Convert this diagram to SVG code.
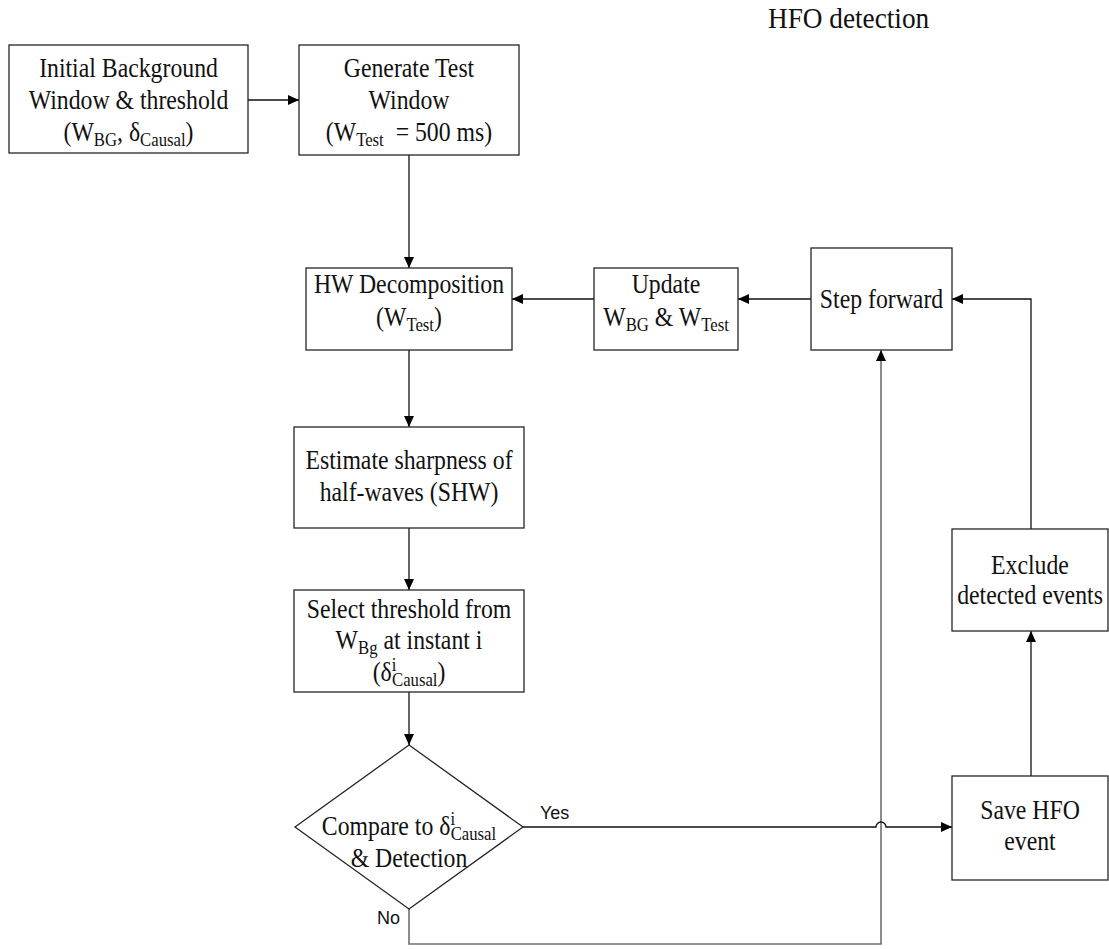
<svg xmlns="http://www.w3.org/2000/svg" width="1109" height="949" viewBox="0 0 1109 949">
  <style>
    .box { fill: #ffffff; stroke: #262626; stroke-width: 1.3; }
    .lbl { font-family: "Liberation Serif", "Times New Roman", serif; font-size: 27px; fill: #111111; text-anchor: middle; }
    .sub { font-size: 19px; }
    .yn { font-family: "Liberation Sans", Arial, sans-serif; font-size: 18px; fill: #111111; }
    .edge { fill: none; stroke: #111111; stroke-width: 1.3; }
    .edge-grey { fill: none; stroke: #707070; stroke-width: 1.6; }
    .title { font-family: "Liberation Serif", "Times New Roman", serif; font-size: 29px; fill: #111111; }
  </style>
  <defs>
    <marker id="arrow" markerUnits="userSpaceOnUse" markerWidth="12" markerHeight="10" refX="11" refY="5" orient="auto">
      <path d="M0,0 L11,5 L0,10 Z" fill="#000000"/>
    </marker>
  </defs>

  <rect width="1109" height="949" fill="#ffffff"/>

  <!-- labels are set in a narrowed serif: each line is placed by translate() and squeezed horizontally -->
  <text class="title" transform="translate(768,28) scale(0.94,1)">HFO detection</text>

  <!-- connectors -->
  <g id="connectors">
    <line class="edge" x1="248" y1="100" x2="299" y2="100" marker-end="url(#arrow)"/>
    <line class="edge" x1="409" y1="155" x2="409" y2="268" marker-end="url(#arrow)"/>
    <line class="edge" x1="409" y1="350" x2="409" y2="427" marker-end="url(#arrow)"/>
    <line class="edge" x1="409" y1="528" x2="409" y2="590" marker-end="url(#arrow)"/>
    <line class="edge" x1="409" y1="692" x2="409" y2="745" marker-end="url(#arrow)"/>
    <line class="edge" x1="594" y1="299" x2="512" y2="299" marker-end="url(#arrow)"/>
    <line class="edge" x1="811" y1="299" x2="738" y2="299" marker-end="url(#arrow)"/>
    <polyline class="edge" points="1031,529 1031,299 952,299" marker-end="url(#arrow)"/>
    <line class="edge" x1="1031" y1="776" x2="1031" y2="631" marker-end="url(#arrow)"/>
    <!-- No branch: down, across and up to Step forward -->
    <polyline class="edge-grey" points="409,909 409,944 881,944 881,350" marker-end="url(#arrow)"/>
    <!-- Yes branch with a hop over the No branch -->
    <path class="edge" d="M523,827 H876 A5,5 0 0 1 886,827 H952" marker-end="url(#arrow)"/>
    <text class="yn" x="540" y="819">Yes</text>
    <text class="yn" x="400" y="924" text-anchor="end">No</text>
  </g>

  <g id="init-window">
    <rect class="box" x="9" y="45" width="239" height="108"/>
    <text class="lbl" transform="translate(128.5,77) scale(0.88,1)">Initial Background</text>
    <text class="lbl" transform="translate(128.5,109) scale(0.88,1)">Window &amp; threshold</text>
    <text class="lbl" transform="translate(128.5,141) scale(0.88,1)">(W<tspan class="sub" dy="5">BG</tspan><tspan dy="-5">, δ</tspan><tspan class="sub" dy="5">Causal</tspan><tspan dy="-5">)</tspan></text>
  </g>

  <g id="test-window">
    <rect class="box" x="299" y="45" width="220" height="110"/>
    <text class="lbl" transform="translate(409,77) scale(0.88,1)">Generate Test</text>
    <text class="lbl" transform="translate(409,109) scale(0.88,1)">Window</text>
    <text class="lbl" transform="translate(409,141) scale(0.88,1)">(W<tspan class="sub" dy="5">Test</tspan><tspan dy="-5">&#160; = 500 ms)</tspan></text>
  </g>

  <g id="hw-decomposition">
    <rect class="box" x="306" y="268" width="206" height="82"/>
    <text class="lbl" transform="translate(409,293) scale(0.88,1)">HW Decomposition</text>
    <text class="lbl" transform="translate(409,326) scale(0.88,1)">(W<tspan class="sub" dy="5">Test</tspan><tspan dy="-5">)</tspan></text>
  </g>

  <g id="update">
    <rect class="box" x="594" y="268" width="144" height="82"/>
    <text class="lbl" transform="translate(666,293) scale(0.88,1)">Update</text>
    <text class="lbl" transform="translate(666,326) scale(0.88,1)">W<tspan class="sub" dy="5">BG</tspan><tspan dy="-5"> &amp; W</tspan><tspan class="sub" dy="5">Test</tspan></text>
  </g>

  <g id="step-forward">
    <rect class="box" x="811" y="248" width="141" height="102"/>
    <text class="lbl" transform="translate(881.5,308) scale(0.88,1)">Step forward</text>
  </g>

  <g id="estimate-sharpness">
    <rect class="box" x="294" y="427" width="230" height="101"/>
    <text class="lbl" transform="translate(409,469) scale(0.88,1)">Estimate sharpness of</text>
    <text class="lbl" transform="translate(409,501) scale(0.88,1)">half-waves (SHW)</text>
  </g>

  <g id="select-threshold">
    <rect class="box" x="294" y="590" width="230" height="102"/>
    <text class="lbl" transform="translate(409,618) scale(0.88,1)">Select threshold from</text>
    <text class="lbl" transform="translate(409,649) scale(0.88,1)">W<tspan class="sub" dy="5">Bg</tspan><tspan dy="-5"> at instant i</tspan></text>
    <text class="lbl" transform="translate(409,681) scale(0.88,1)">(δ<tspan class="sub" dy="-10">i</tspan><tspan class="sub" dx="-5" dy="15">Causal</tspan><tspan dy="-5">)</tspan></text>
  </g>

  <g id="compare-detection">
    <polygon class="box" points="409,745 523,827 409,909 295,827"/>
    <text class="lbl" transform="translate(409,835) scale(0.88,1)">Compare to δ<tspan class="sub" dy="-10">i</tspan><tspan class="sub" dx="-5" dy="15">Causal</tspan></text>
    <text class="lbl" transform="translate(409,867) scale(0.88,1)">&amp; Detection</text>
  </g>

  <g id="exclude-events">
    <rect class="box" x="952" y="529" width="156" height="102"/>
    <text class="lbl" transform="translate(1030,574) scale(0.88,1)">Exclude</text>
    <text class="lbl" transform="translate(1030,604) scale(0.88,1)">detected events</text>
  </g>

  <g id="save-event">
    <rect class="box" x="952" y="776" width="156" height="104"/>
    <text class="lbl" transform="translate(1030,819) scale(0.88,1)">Save HFO</text>
    <text class="lbl" transform="translate(1030,850) scale(0.88,1)">event</text>
  </g>
</svg>
